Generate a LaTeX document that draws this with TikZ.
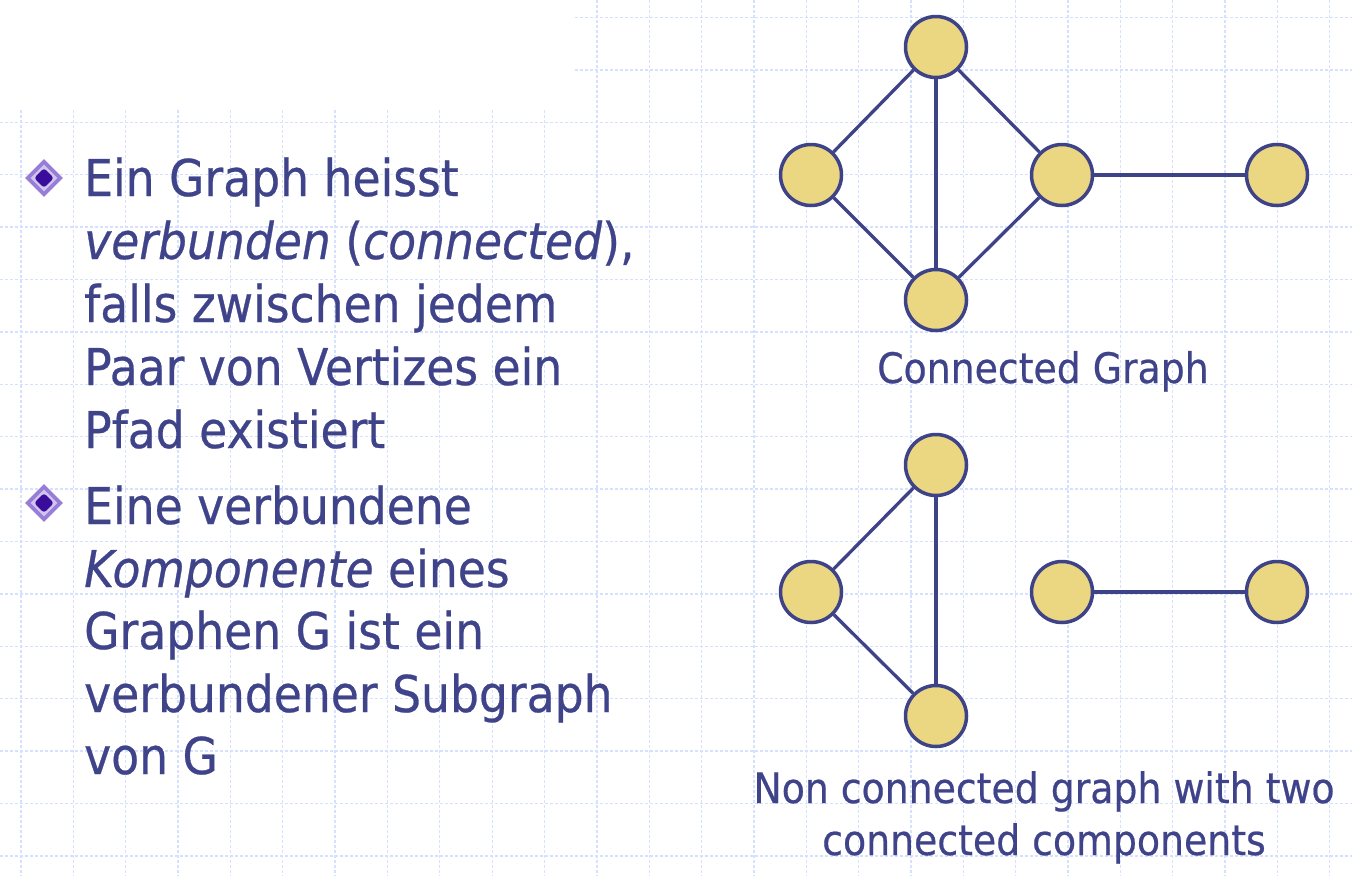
\documentclass[tikz,border=0pt]{standalone}
\usepackage{fontspec}
\usetikzlibrary{shapes.geometric}
\setmainfont[FakeStretch=0.9,FakeBold=0.5]{DejaVu Sans}
\definecolor{txt}{HTML}{3F4389}
\definecolor{edgec}{HTML}{3E4388}
\definecolor{nodef}{HTML}{EBD681}
\definecolor{gridc}{HTML}{D6E0FF}
\definecolor{bulout}{HTML}{977DD8}
\definecolor{bulin}{HTML}{3A0C9C}
\tikzset{
  vtx/.style={circle, draw=edgec, fill=nodef, line width=3.5pt, minimum size=61pt, inner sep=0pt},
  edg/.style={draw=edgec, line width=3.3pt},
  bodytext/.style={anchor=base west, inner sep=0pt, text=txt, font=\fontsize{50.7}{63}\selectfont},
  labeltext/.style={anchor=base, inner sep=0pt, text=txt, font=\fontsize{42}{52}\selectfont},
}
\begin{document}
\begin{tikzpicture}[x=1pt,y=-1pt]
\useasboundingbox (0,0) rectangle (1352,876);
\fill[white] (0,0) rectangle (1352,876);
% grid
\foreach \k in {0,...,25} {
  \draw[gridc, line width=1.3pt, dash pattern=on 3pt off 2pt] ({21+52.35*\k},0) -- ({21+52.35*\k},876);
}
\foreach \k in {0,...,16} {
  \draw[gridc, line width=1.3pt, dash pattern=on 3pt off 2pt] (0,{17.5+52.4*\k}) -- (1352,{17.5+52.4*\k});
}
\fill[white] (0,0) rectangle (574,108);
% bullets
\foreach \n/\y in {bA/178, bB/503} {
  \node[name=\n, diamond, fill=bulout, minimum size=38pt, inner sep=0pt] at (44,\y) {};
  \node[diamond, fill=white!55!bulout, minimum size=27pt, inner sep=0pt] at (\n) {};
  \node[diamond, fill=bulin, minimum size=20pt, inner sep=0pt, rounded corners=3pt] at (\n) {};
}
% body text
\node[bodytext] (a1) at (84,196) {Ein Graph heisst};
\node[bodytext] (a2) at (84,259) {\textit{verbunden} (\textit{connected}),};
\node[bodytext] (a3) at (84,322) {falls zwischen jedem};
\node[bodytext] (a4) at (84,385) {Paar von Vertizes ein};
\node[bodytext] (a5) at (84,448) {Pfad existiert};
\node[bodytext] (c1) at (84,524) {Eine verbundene};
\node[bodytext] (c2) at (84,587) {\textit{Komponente} eines};
\node[bodytext] (c3) at (84,649) {Graphen G ist ein};
\node[bodytext] (c4) at (84,712) {verbundener Subgraph};
\node[bodytext] (c5) at (84,774) {von G};
% graph 1
\node[vtx] (t1) at (936,47) {};
\node[vtx] (l1) at (811,175) {};
\node[vtx] (r1) at (1062,175) {};
\node[vtx] (f1) at (1277,175) {};
\node[vtx] (b1) at (936,300) {};
\draw[edg] (t1) -- (l1);
\draw[edg] (t1) -- (b1);
\draw[edg] (t1) -- (r1);
\draw[edg] (l1) -- (b1);
\draw[edg] (r1) -- (b1);
\draw[edg] (r1) -- (f1);
\node[labeltext] (lab1) at (1043,383) {Connected Graph};
% graph 2
\node[vtx] (t2) at (936,465) {};
\node[vtx] (l2) at (811,592) {};
\node[vtx] (r2) at (1062,592) {};
\node[vtx] (f2) at (1277,592) {};
\node[vtx] (b2) at (936,716) {};
\draw[edg] (t2) -- (l2);
\draw[edg] (t2) -- (b2);
\draw[edg] (l2) -- (b2);
\draw[edg] (r2) -- (f2);
\node[labeltext] (lab2a) at (1044,803) {Non connected graph with two};
\node[labeltext] (lab2b) at (1044,855) {connected components};
\end{tikzpicture}
\end{document}
